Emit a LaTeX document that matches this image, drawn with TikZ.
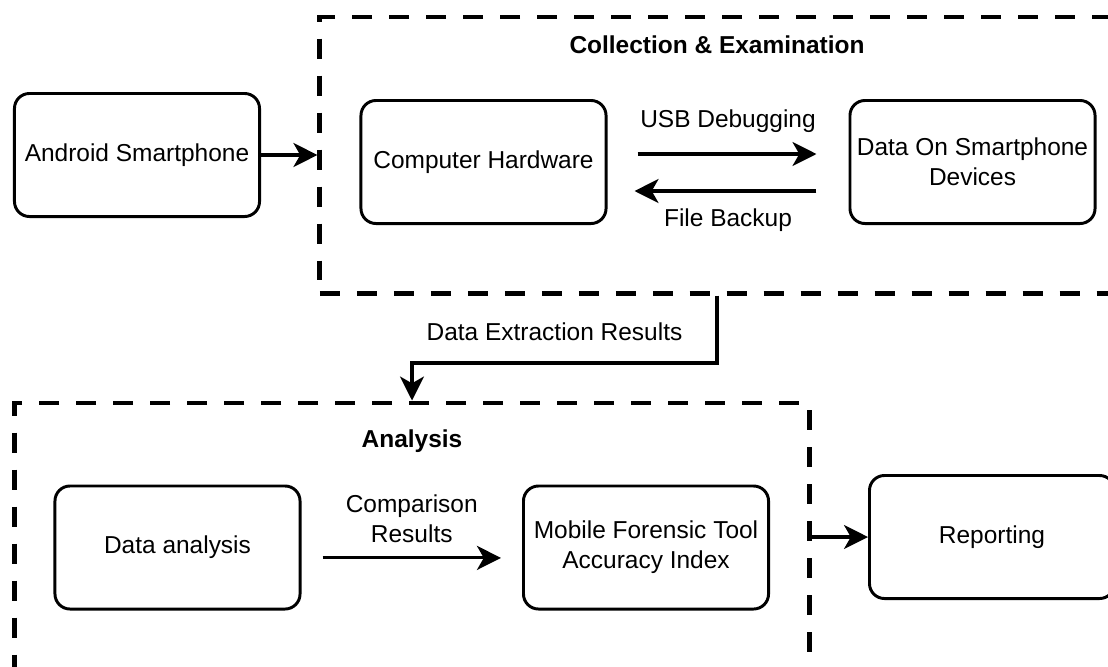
\documentclass[tikz,border=0pt]{standalone}
\usepackage{fontspec}
\setmainfont{Liberation Sans}
\usetikzlibrary{arrows.meta,shapes.geometric}

\begin{document}
\begin{tikzpicture}[x=0.025cm, y=-0.025cm, font=\fontsize{17.4pt}{21.3pt}\selectfont]
\tikzstyle{box1}=[rectangle, draw, rounded corners=0.375cm, line width=2.1pt, minimum width=6.125cm, minimum height=3.075cm, align=center, inner sep=0pt]
\tikzstyle{group}=[rectangle, draw, line width=3.5pt, dash pattern=on 14.2pt off 12.1pt, inner sep=0pt]
\tikzstyle{arrow}=[-{Stealth[length=0.6cm, width=0.6cm, inset=0.17cm]}, line width=2.2pt]
\useasboundingbox (0,0) rectangle (1108,666);

% the two stages
\node (collect) [group, minimum width=19.85cm, minimum height=6.9cm] at (717,155) {};
\node (analysis) [group, minimum width=19.85cm, minimum height=6.7cm] at (412,537) {};
\node (collectT) at ([yshift=-0.75cm]collect.north) {\textbf{Collection \& Examination}};
\node (analysisT) at ([yshift=-1.025cm]analysis.north) {\textbf{Analysis}};

\node (phone) [box1] at (137,155) {Android Smartphone};
\node (hardware) [box1] at (483.5,162) {Computer Hardware};
\node (device) [box1] at (972.5,162) {Data On Smartphone\\Devices};
\node (dataan) [box1] at (177.5,547.5) {Data analysis};
\node (accuracy) [box1] at (646,547.5) {Mobile Forensic Tool\\Accuracy Index};
\node (report) [box1] at (992,537) {Reporting};

\draw [arrow] (phone.east) -- (collect.west);
\draw [arrow, shorten <=0.75cm, shorten >=0.8cm] ([yshift=0.2cm]hardware.east) -- node[yshift=0.825cm] {USB Debugging} ([yshift=0.2cm]device.west);
\draw [arrow, shorten <=0.8cm, shorten >=0.675cm] ([yshift=-0.725cm]device.west) -- node[yshift=-0.725cm] {File Backup} ([yshift=-0.725cm]hardware.east);

\coordinate (bend) at (717,363);
\draw [arrow] (collect.south) -- (bend) -| node[pos=0.25, xshift=-0.25cm, yshift=0.775cm] {Data Extraction Results} (analysis.north);

\draw [arrow, shorten <=0.525cm, shorten >=0.525cm] ([yshift=-0.26cm]dataan.east) -- node[yshift=0.99cm, align=center] {Comparison\\Results} ([yshift=-0.26cm]accuracy.west);
\draw [arrow] (analysis.east) -- (report.west);

\end{tikzpicture}
\end{document}
